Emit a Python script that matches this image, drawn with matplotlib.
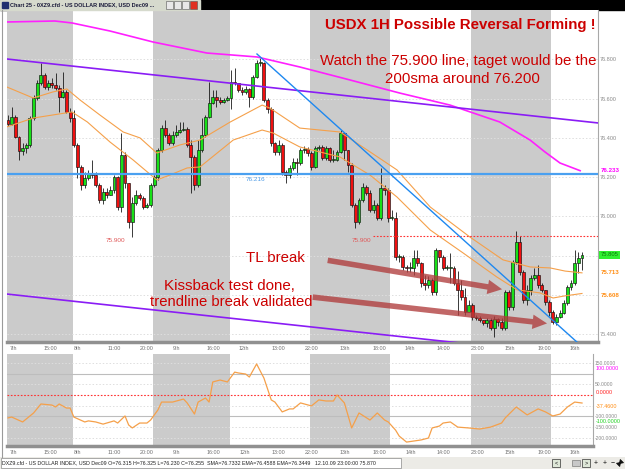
import matplotlib
matplotlib.use('Agg')
import matplotlib.pyplot as plt
from matplotlib.patches import Rectangle, FancyArrowPatch
import matplotlib.transforms as mtransforms
import numpy as np

plt.rcParams['font.family'] = ['Liberation Sans', 'DejaVu Sans']

W, H = 625, 469

# ---------------- data ----------------
open0 = 76.491
close = [76.471, 76.506, 76.405, 76.333, 76.349,
         76.364, 76.501, 76.603, 76.679, 76.720, 76.659, 76.679, 76.669,
         76.654, 76.608, 76.634, 76.532, 76.501,
         76.364, 76.252, 76.160, 76.196, 76.216, 76.211, 76.160, 76.084, 76.125, 76.110,
         76.135, 76.201, 76.048, 76.313, 76.171, 75.972, 76.069, 76.110, 76.094, 76.048, 76.059, 76.160,
         76.201, 76.339, 76.450, 76.415, 76.374, 76.415, 76.430, 76.440, 76.445, 76.364,
         76.303, 76.160, 76.339, 76.415, 76.506, 76.578, 76.608, 76.593, 76.583, 76.593,
         76.603, 76.685, 76.679, 76.644, 76.634, 76.649, 76.608, 76.710, 76.781, 76.781,
         76.593, 76.547, 76.374, 76.328, 76.364, 76.227, 76.211, 76.247, 76.277, 76.272,
         76.339, 76.344, 76.323, 76.252, 76.349, 76.354, 76.298, 76.349, 76.288, 76.288,
         76.328, 76.425, 76.339, 76.262, 76.059, 75.972, 76.084, 76.150, 76.120, 76.033,
         76.059, 75.992, 76.145, 76.135, 75.992, 75.992, 75.794, 75.794, 75.743, 75.738,
         75.738, 75.789, 75.763, 75.662, 75.651, 75.677, 75.616, 75.830, 75.794, 75.738,
         75.738, 75.738, 75.662, 75.626, 75.590, 75.514, 75.550, 75.489, 75.484, 75.473,
         75.458, 75.473, 75.433, 75.478, 75.463, 75.433, 75.616, 75.540, 75.769, 75.870,
         75.718, 75.575, 75.626, 75.687, 75.702, 75.651, 75.626, 75.565, 75.514, 75.463,
         75.489, 75.509, 75.560, 75.641, 75.662, 75.763, 75.789, 75.805]
high = [76.517, 76.557, 76.517, 76.410, 76.374,
        76.374, 76.512, 76.618, 76.695, 76.781, 76.730, 76.695, 76.705,
        76.730, 76.669, 76.735, 76.644, 76.552,
        76.542, 76.374, 76.262, 76.227, 76.237, 76.288, 76.227, 76.171, 76.145, 76.145,
        76.155, 76.211, 76.206, 76.425, 76.328, 76.171, 76.099, 76.135, 76.120, 76.104, 76.069, 76.171,
        76.211, 76.349, 76.466, 76.491, 76.425, 76.435, 76.466, 76.481, 76.481, 76.456,
        76.389, 76.313, 76.389, 76.501, 76.517, 76.685, 76.644, 76.644, 76.608, 76.603,
        76.613, 76.746, 76.756, 76.679, 76.659, 76.664, 76.654, 76.720, 76.797, 76.807,
        76.786, 76.603, 76.557, 76.379, 76.389, 76.374, 76.237, 76.262, 76.298, 76.298,
        76.349, 76.359, 76.354, 76.333, 76.359, 76.364, 76.364, 76.359, 76.354, 76.339,
        76.339, 76.440, 76.425, 76.339, 76.272, 76.069, 76.094, 76.171, 76.160, 76.135,
        76.084, 76.069, 76.247, 76.160, 76.145, 76.033, 76.023, 75.809, 75.804, 75.753,
        75.769, 75.830, 75.830, 75.769, 75.702, 75.697, 75.687, 75.840, 75.830, 75.804,
        75.753, 75.814, 75.748, 75.723, 75.677, 75.636, 75.575, 75.560, 75.499, 75.494,
        75.473, 75.484, 75.484, 75.494, 75.484, 75.484, 75.626, 75.626, 75.779, 75.926,
        75.901, 75.728, 75.651, 75.702, 75.738, 75.753, 75.662, 75.626, 75.575, 75.524,
        75.504, 75.524, 75.575, 75.651, 75.677, 75.830, 75.820, 75.820]
low = [76.461, 76.466, 76.400, 76.288, 76.313,
       76.323, 76.354, 76.491, 76.593, 76.669, 76.649, 76.644, 76.654,
       76.644, 76.532, 76.603, 76.527, 76.481,
       76.354, 76.196, 76.135, 76.145, 76.186, 76.196, 76.150, 76.069, 76.064, 76.094,
       76.110, 76.120, 76.033, 76.023, 76.145, 75.942, 75.896, 76.059, 76.084, 76.038, 76.043, 76.048,
       76.150, 76.186, 76.328, 76.405, 76.364, 76.364, 76.405, 76.425, 76.435, 76.354,
       76.120, 76.135, 76.150, 76.328, 76.405, 76.501, 76.573, 76.557, 76.573, 76.578,
       76.588, 76.547, 76.669, 76.634, 76.618, 76.623, 76.557, 76.598, 76.705, 76.766,
       76.583, 76.527, 76.359, 76.313, 76.313, 76.211, 76.171, 76.196, 76.237, 76.211,
       76.262, 76.323, 76.308, 76.237, 76.247, 76.339, 76.288, 76.288, 76.277, 76.277,
       76.283, 76.323, 76.288, 76.227, 76.048, 75.942, 75.962, 76.074, 76.110, 76.023,
       76.018, 75.982, 75.982, 76.110, 75.972, 75.982, 75.779, 75.769, 75.728, 75.718,
       75.718, 75.702, 75.748, 75.641, 75.626, 75.636, 75.601, 75.601, 75.769, 75.728,
       75.728, 75.662, 75.651, 75.499, 75.575, 75.499, 75.524, 75.473, 75.473, 75.463,
       75.448, 75.438, 75.423, 75.387, 75.443, 75.423, 75.423, 75.524, 75.524, 75.758,
       75.702, 75.560, 75.550, 75.601, 75.677, 75.636, 75.616, 75.550, 75.494, 75.453,
       75.448, 75.484, 75.504, 75.550, 75.626, 75.651, 75.713, 75.728]

# 200 SMA (magenta) sampled at candle positions
sma_idx = [-0.3, 12.8, 17.5, 27.9, 39.7, 54.4, 68.1, 79.8, 93.5, 107.2, 120.9, 134.5, 142.8, 146.9, 151.0, 156.5]
sma_val = [76.990, 76.995, 76.985, 76.944, 76.888, 76.832, 76.812, 76.761, 76.695, 76.628, 76.567, 76.481,
           76.389, 76.328, 76.272, 76.233]
# slower moving average (orange)
ma1_idx = [-0.3, 6.9, 12.3, 16.1, 19.7, 25.1, 31.5, 36.1, 40.7, 47.0, 52.5, 60.8, 69.5, 71.6, 79.8, 90.8,
           98.2, 106.4, 115.5, 126.3, 135.4, 142.8, 148.3, 152.4, 157.0]
ma1_val = [76.659, 76.603, 76.634, 76.649, 76.593, 76.517, 76.430, 76.400, 76.323, 76.364, 76.389, 76.481,
           76.567, 76.552, 76.450, 76.430, 76.339, 76.237, 76.048, 75.896, 75.779, 75.743, 75.738, 75.722, 75.713]
# faster moving average (orange)
ma2_idx = [-0.3, 6.9, 17.5, 21.7, 27.9, 34.2, 40.7, 44.3, 49.0, 52.5, 61.6, 69.5, 72.5, 79.8, 90.8, 99.0,
           106.4, 115.5, 124.5, 133.7, 139.3, 145.5, 149.1, 152.4, 157.0]
ma2_val = [76.456, 76.501, 76.532, 76.481, 76.379, 76.288, 76.186, 76.211, 76.247, 76.252, 76.389, 76.440,
           76.425, 76.354, 76.303, 76.211, 76.099, 75.931, 75.814, 75.692, 75.626, 75.611, 75.585, 75.596, 75.608]

# CCI oscillator
cci_idx = [0, 1, 4, 7, 9, 12, 13, 14, 16, 17, 18, 21, 22, 24, 26, 29, 30, 32, 33, 34, 36, 38, 39, 41, 42,
           45, 48, 49, 51, 52, 54, 55, 56, 58, 60, 62, 63, 65, 66, 68, 70, 72, 73, 75, 77, 78, 80, 83, 85,
           87, 89, 90, 92, 94, 96, 99, 101, 103, 104, 106, 107, 109, 113, 115, 116, 118, 119, 121, 123, 126,
           129, 132, 135, 136, 139, 142, 145, 147, 149, 151, 153, 155, 157]
cci_val = [-107, -103, -126, -84, -42, -47, -56, -42, -61, -61, -103, -126, -121, -126, -136, -121, -131, -98,
           -140, -154, -131, -131, -117, -70, -33, -33, -19, -37, -89, -33, -14, -33, 61, 70, 61, 107, 103,
           98, 84, 145, 79, -23, -33, -79, -65, -65, -37, -51, -23, -28, -28, 0, -37, -154, -84, -117, -84,
           -117, -126, -164, -192, -220, -210, -201, -154, -145, -131, -126, -150, -154, -159, -150, -131,
           -107, -56, -93, -65, -79, -98, -89, -56, -33, -37.46]

# sessions (shaded), time labels, levels, drawn lines
sessions = [(-0.5, 17.8), (39.7, 60.7), (82.6, 104.5), (126.6, 148.5)]
tick_pos = [0.5, 9.6, 18.1, 27.1, 36.1, 45.1, 54.2, 63.2, 72.2, 81.2, 90.8, 99.6, 108.6, 117.3, 126.6,
            135.8, 144.9, 153.7]
tick_lbl = ['7th', '15:00', '8th', '11:00', '20:00', '9th', '16:00', '12th', '13:00', '22:00', '13th',
            '18:00', '14th', '14:00', '23:00', '15th', '19:00', '16th']
price_ticks = [75.4, 75.8, 76.0, 76.2, 76.4, 76.6, 76.8]
cci_ticks = [150, 50, -100, -150, -200]
level_blue = 76.216
level_red = 75.900
upper_channel = [(-0.27, 76.8015), (161.4, 76.476)]
lower_channel = [(-0.27, 75.605), (161.4, 75.280)]
trend_line = [(68.1, 76.827), (155.9, 75.356)]

# ---------------- figure ----------------
fig = plt.figure(figsize=(W / 100, H / 100), dpi=100)
fig.patch.set_facecolor('white')


def fx(x):
    return x / W


def fy(y):
    return 1 - y / H


ax = fig.add_axes([fx(7), fy(342), (598 - 7) / W, (342 - 10) / H])
osc = fig.add_axes([fx(7), fy(446), (593 - 7) / W, (446 - 354) / H])

XL = (-0.2735, 161.38)
ax.set_xlim(*XL)
ax.set_ylim(75.361, 77.051)
osc.set_xlim(XL[0], 160.0)
osc.set_ylim(-238.3, 191.6)

for a in (ax, osc):
    a.set_facecolor('white')
    for s0, s1 in sessions:
        a.axvspan(s0, s1, color='#cbcbcb', lw=0, zorder=0)
    for sp in ('top', 'left'):
        a.spines[sp].set_visible(False)
    a.spines['right'].set_color('#a8a8a8')
    a.spines['bottom'].set_color('#909090')
    a.spines['bottom'].set_linewidth(2.5)
    a.set_xticks(tick_pos)
    a.set_xticklabels(tick_lbl)
    a.tick_params(axis='x', length=0, pad=3.2, labelsize=3.9, labelcolor='#707070')
    for lb in a.get_xticklabels():
        lb.set_ha('left')
    a.yaxis.tick_right()
    a.tick_params(axis='y', length=0, pad=1.5, labelcolor='#8a8a8a')

# main price grid
ax.set_yticks(price_ticks)
ax.set_yticklabels(['%.3f' % v for v in price_ticks])
ax.tick_params(axis='y', labelsize=4.0)
for v in [75.4, 75.6, 75.8, 76.0, 76.2, 76.4, 76.6, 76.8]:
    ax.axhline(v, color='#dedede', lw=0.7, ls=(0, (1.5, 2)), zorder=1)

# candles
n = len(close)
opens = [open0] + close[:-1]
x = np.arange(n)
o = np.array(opens)
c = np.array(close)
cols = ['#18e018' if cc >= oo else '#f01010' for oo, cc in zip(o, c)]
ax.vlines(x, low, high, color='#1a1a1a', lw=0.6, zorder=3)
ax.bar(x, np.maximum(np.abs(c - o), 0.004), bottom=np.minimum(o, c), width=0.8, color=cols,
       edgecolor='#111111', linewidth=0.45, zorder=4)

# lines
ax.plot(sma_idx, sma_val, color='#ff20ff', lw=1.2, zorder=5)
ax.plot(ma1_idx, ma1_val, color='#f5a04a', lw=0.8, zorder=5)
ax.plot(ma2_idx, ma2_val, color='#f5a04a', lw=0.8, zorder=5)
ax.plot(*zip(*upper_channel), color='#8a1cf5', lw=1.2, zorder=5)
ax.plot(*zip(*lower_channel), color='#8a1cf5', lw=1.2, zorder=5)
ax.axhline(level_blue, color='#4aa0f0', lw=1.6, zorder=5)
ax.plot(*zip(*trend_line), color='#1e88f0', lw=1.0, zorder=6)
ax.hlines(level_red, 99.8, XL[1], colors='#ff3030', lw=0.8, linestyles=(0, (1.5, 1.5)), zorder=5)

# level labels
ax.text(29.5, 75.876, '75.900', color='#e05858', fontsize=4.6, ha='center', va='center', zorder=7)
ax.text(96.8, 75.876, '75.900', color='#e05858', fontsize=4.6, ha='center', va='center', zorder=7)
ax.text(67.8, 76.186, '76.216', color='#4d9be6', fontsize=4.6, ha='center', va='center', zorder=7)

# arrows
arrow_pts = [((86.7, 75.779), (135.9, 75.627)), ((82.6, 75.591), (148.2, 75.454))]
for (p0, p1) in arrow_pts:
    ar = FancyArrowPatch(p0, p1, arrowstyle='simple,head_length=1.3,head_width=1.3,tail_width=0.5',
                         mutation_scale=8, color='#b03c3c', alpha=0.78, lw=0, zorder=8)
    ax.add_patch(ar)

# right colored labels
bt = mtransforms.blended_transform_factory(ax.transAxes, ax.transData)
ax.text(1.004, 76.233, '76.233', transform=bt, color='#ff00ff', fontsize=4.4, fontweight='bold',
        va='center', ha='left', zorder=9, clip_on=False)
ax.text(1.004, 75.805, '75.805', transform=bt, color='#0a7a0a', fontsize=4.2, va='center', ha='left',
        zorder=9, clip_on=False, bbox=dict(boxstyle='square,pad=0.25', fc='#30f030', ec='none'))
ax.text(1.004, 75.713, '75.713', transform=bt, color='#ff8c10', fontsize=4.4, fontweight='bold',
        va='center', ha='left', zorder=9, clip_on=False)
ax.text(1.004, 75.598, '75.608', transform=bt, color='#ff8c10', fontsize=4.4, fontweight='bold',
        va='center', ha='left', zorder=9, clip_on=False)

# oscillator
osc.set_yticks(cci_ticks)
osc.set_yticklabels(['%.4f' % v for v in cci_ticks])
osc.tick_params(axis='y', labelsize=3.6)
for v in [150, 50, -50, -150, -200]:
    osc.axhline(v, color='#dedede', lw=0.7, ls=(0, (1.5, 2)), zorder=1)
for v in [100, -100]:
    osc.axhline(v, color='#bdbdbd', lw=0.8, zorder=1)
osc.axhline(0, color='#ff3030', lw=0.8, ls=(0, (1.5, 1.5)), zorder=2)
osc.plot(cci_idx, cci_val, color='#f5a04a', lw=0.9, zorder=4)
bt2 = mtransforms.blended_transform_factory(osc.transAxes, osc.transData)
osc.text(1.004, 126, '100.0000', transform=bt2, color='#ff00ff', fontsize=3.9, va='center',
         clip_on=False)
osc.text(1.004, 14, '0.0000', transform=bt2, color='#ff2020', fontsize=3.9, va='center', clip_on=False)
osc.text(1.004, -55, '-37.4600', transform=bt2, color='#ff8c10', fontsize=3.9, va='center',
         clip_on=False)
osc.text(1.004, -124, '-100.0000', transform=bt2, color='#20d020', fontsize=3.9, va='center',
         clip_on=False)

# ---------------- annotations ----------------
red = '#cc0000'
fig.text(fx(460), fy(25), 'USDX 1H Possible Reversal Forming !', color=red, fontsize=10.8,
         fontweight='bold', ha='center', va='center')
fig.text(fx(458), fy(61), 'Watch the 75.900 line, taget would be the', color=red, fontsize=10.8,
         ha='center', va='center')
fig.text(fx(462), fy(79), '200sma around 76.200', color=red, fontsize=10.8, ha='center', va='center')
fig.text(fx(275), fy(258), 'TL break', color=red, fontsize=10.8, ha='center', va='center')
fig.text(fx(229), fy(286), 'Kissback test done,', color=red, fontsize=10.9, ha='center', va='center')
fig.text(fx(231), fy(302), 'trendline break validated', color=red, fontsize=10.7, ha='center',
         va='center')

# ---------------- window chrome ----------------
fig.add_artist(Rectangle((0, fy(10)), 1, 10 / H, transform=fig.transFigure, color='black', zorder=0))
fig.add_artist(Rectangle((0, fy(10)), 200 / W, 10 / H, transform=fig.transFigure, color='#d6dacd',
                         zorder=1))
fig.text(fx(10), fy(5), 'Chart 25 - 0XZ9.cfd - US DOLLAR INDEX, USD Dec09 ...', fontsize=4.0,
         fontweight='bold', color='#1a1a3a', va='center')
fig.add_artist(Rectangle((fx(2), fy(8)), 6 / W, 6 / H, transform=fig.transFigure, color='#203070',
                         zorder=2))
for bx, bc in [(166, '#e8e8e8'), (174, '#e8e8e8'), (182, '#e8e8e8'), (190, '#e03020')]:
    fig.add_artist(Rectangle((fx(bx), fy(9)), 7 / W, 8 / H, transform=fig.transFigure, fc=bc,
                             ec='#555555', lw=0.4, zorder=2))
fig.add_artist(plt.Line2D([fx(2), fx(2)], [fy(10), fy(457)], transform=fig.transFigure,
                          color='#9a9a9a', lw=0.8))

# status bar
fig.add_artist(Rectangle((0, 0), 1, 12 / H, transform=fig.transFigure, fc='#ecebe6', ec='none', zorder=0))
fig.add_artist(Rectangle((fx(1), fy(468)), 400 / W, 10 / H, transform=fig.transFigure, fc='white',
                         ec='#8a8a8a', lw=0.5, zorder=1))
fig.text(fx(2), fy(463), 'DXZ9.cfd - US DOLLAR INDEX, USD Dec09 O=76.315 H=76.325 L=76.230 C=76.255  '
         'SMA=76.7332 EMA=76.4588 EMA=76.3449   12.10.09 23:00:00 75.870', fontsize=3.8, color='#222222',
         va='center')
for bx, t in [(552, '<'), (582, '>')]:
    fig.add_artist(Rectangle((fx(bx), fy(467)), 8 / W, 8 / H, transform=fig.transFigure, fc='#dfe8d8',
                             ec='#333333', lw=0.5, zorder=2))
    fig.text(fx(bx + 4), fy(463), t, fontsize=4, ha='center', va='center', color='#111111', zorder=3)
fig.add_artist(Rectangle((fx(572), fy(466)), 8 / W, 6 / H, transform=fig.transFigure, fc='#c8c8c8',
                         ec='#666666', lw=0.4, zorder=2))
for bx, t in [(596, '+'), (605, '+'), (613, '\u2212')]:
    fig.text(fx(bx), fy(463), t, fontsize=5, ha='center', va='center', color='#111111')
# resize icon (no installed font has this glyph): small double-headed diagonal arrow
fig.add_artist(FancyArrowPatch((fx(617), fy(466)), (fx(623), fy(460)), transform=fig.transFigure,
                               arrowstyle='<|-|>,head_length=1.2,head_width=0.8', mutation_scale=2,
                               color='#111111', lw=0.6))

fig.savefig('out.png', dpi=100)
